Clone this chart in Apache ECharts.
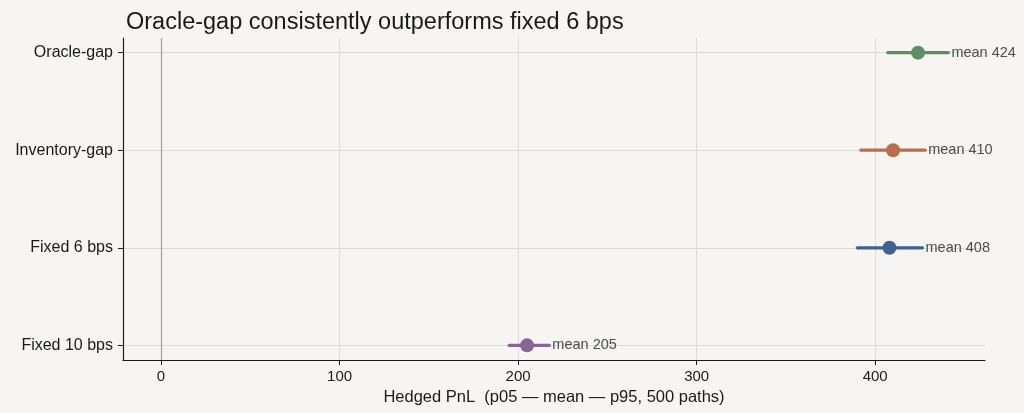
<!DOCTYPE html>
<html>
<head>
<meta charset="utf-8">
<script src="https://cdn.jsdelivr.net/npm/echarts@6/dist/echarts.min.js"></script>
<style>
  html, body { margin: 0; padding: 0; background: #f6f5f1; }
  #chart { width: 1024px; height: 413px; }
</style>
</head>
<body>
<div id="chart"></div>
<script>
// strategies, top to bottom
const categories = ['Oracle-gap', 'Inventory-gap', 'Fixed 6 bps', 'Fixed 10 bps'];
const p05 = [407, 392, 390, 195];
const means = [424, 410, 408, 205];
const p95 = [441, 428, 426.5, 217.5];
const xTicks = [0, 100, 200, 300, 400];
const palette = ['#5f8c69', '#b8704c', '#3f6391', '#8a6499'];

const chart = echarts.init(document.getElementById('chart'));

const rows = categories.map((c, i) => [i, p05[i], means[i], p95[i]]);

const option = {
  backgroundColor: '#f6f5f1',
  animation: false,
  textStyle: { fontFamily: 'Liberation Sans, Arial, sans-serif' },
  title: {
    text: 'Oracle-gap consistently outperforms fixed 6 bps',
    left: 121,
    top: 6,
    textStyle: { fontSize: 23.5, fontWeight: 'normal', color: '#1a1a1a' }
  },
  grid: { left: 123, right: 39, top: 38, bottom: 53 },
  xAxis: {
    type: 'value',
    min: -21.3,
    max: 461.5,
    name: 'Hedged PnL  (p05 — mean — p95, 500 paths)',
    nameLocation: 'middle',
    nameGap: 28,
    nameTextStyle: { fontSize: 16.5, color: '#1a1a1a' },
    axisLine: { show: true, onZero: false, lineStyle: { color: '#1a1a1a', width: 1.2 } },
    axisTick: { show: true, length: 5, customValues: xTicks, lineStyle: { color: '#1a1a1a' } },
    axisLabel: { customValues: xTicks, fontSize: 15, color: '#1a1a1a', margin: 9 },
    splitLine: { show: true, lineStyle: { color: '#dcdbd6', width: 1 } }
  },
  yAxis: {
    type: 'value',
    inverse: true,
    min: -0.15,
    max: 3.15,
    axisLine: { show: true, onZero: false, lineStyle: { color: '#1a1a1a', width: 1.2 } },
    axisTick: { show: true, length: 5, customValues: [0, 1, 2, 3], lineStyle: { color: '#1a1a1a' } },
    axisLabel: {
      customValues: [0, 1, 2, 3],
      fontSize: 16,
      color: '#1a1a1a',
      margin: 10,
      formatter: v => categories[Math.round(v)] || ''
    },
    splitLine: { show: true, lineStyle: { color: '#dcdbd6', width: 1 } }
  },
  series: [{
    type: 'custom',
    data: rows,
    encode: { x: [1, 2, 3], y: 0 },
    clip: false,
    renderItem: (params, api) => {
      const y = api.value(0);
      const lo = api.coord([api.value(1), y]);
      const mid = api.coord([api.value(2), y]);
      const hi = api.coord([api.value(3), y]);
      const col = palette[params.dataIndex];
      return {
        type: 'group',
        children: [
          {
            type: 'line',
            shape: { x1: lo[0], y1: lo[1], x2: hi[0], y2: hi[1] },
            style: { stroke: col, lineWidth: 3.2, lineCap: 'round' }
          },
          {
            type: 'circle',
            shape: { cx: mid[0], cy: mid[1], r: 7 },
            style: { fill: col }
          },
          {
            type: 'text',
            style: {
              x: hi[0] + 3,
              y: hi[1],
              text: 'mean ' + Math.round(api.value(2)),
              fill: '#4d4d4d',
              fontSize: 14.5,
              fontFamily: 'Liberation Sans, Arial, sans-serif',
              verticalAlign: 'middle',
              align: 'left'
            }
          }
        ]
      };
    },
    markLine: {
      silent: true,
      symbol: 'none',
      label: { show: false },
      lineStyle: { color: '#a0a0a0', width: 1.2, type: 'solid' },
      data: [{ xAxis: 0 }]
    }
  }]
};

chart.setOption(option);
</script>
</body>
</html>
